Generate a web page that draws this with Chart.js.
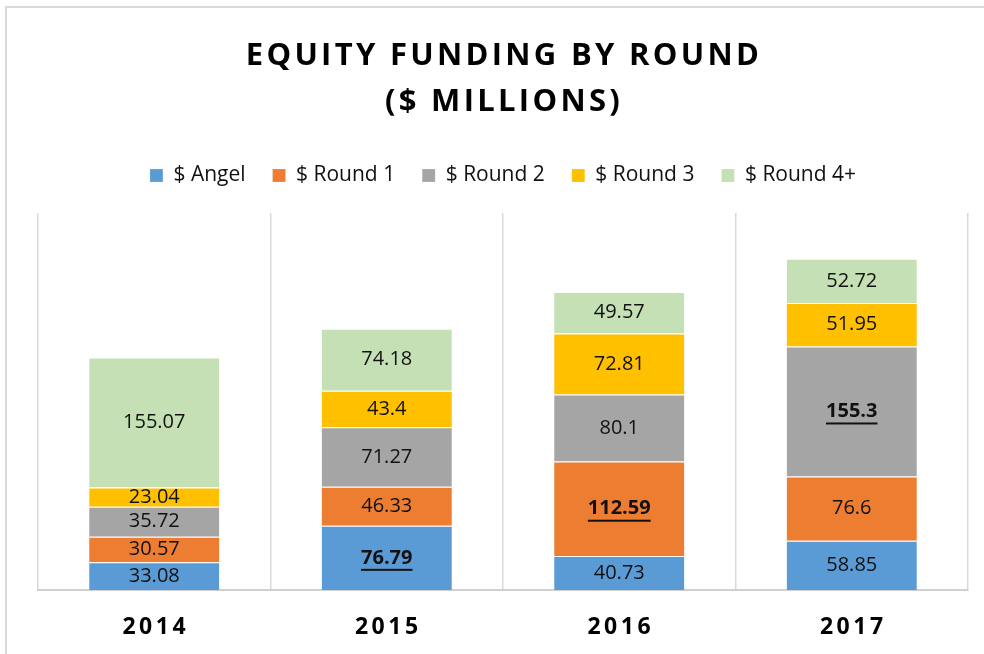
<!DOCTYPE html>
<html>
<head>
<meta charset="utf-8">
<script src="https://cdn.jsdelivr.net/npm/chart.js@4.4.1/dist/chart.umd.min.js"></script>
<style>
  html, body { margin: 0; padding: 0; background: #fff; }
  #wrap { width: 984px; height: 654px; }
</style>
</head>
<body>
<div id="wrap"><canvas id="funding" width="984" height="654"></canvas></div>
<script>
// data
var titleLines = ['EQUITY FUNDING BY ROUND', '($ MILLIONS)'];
var categories = ['2014', '2015', '2016', '2017'];
var seriesNames = ['$ Angel', '$ Round 1', '$ Round 2', '$ Round 3', '$ Round 4+'];
var angel  = [33.08, 76.79, 40.73, 58.85];
var round1 = [30.57, 46.33, 112.59, 76.6];
var round2 = [35.72, 71.27, 80.1, 155.3];
var round3 = [23.04, 43.4, 72.81, 51.95];
var round4 = [155.07, 74.18, 49.57, 52.72];
// which series label is bold+underlined in each year (-1 = none)
var boldSeries = [-1, 0, 1, 2];

var colors = ['#5B9BD5', '#ED7D31', '#A5A5A5', '#FFC000', '#C5E0B4'];
var FONT = "'Open Sans', 'Noto Sans', sans-serif";

var values = [angel, round1, round2, round3, round4];
var datasets = values.map(function (v, i) {
    return {
        label: seriesNames[i],
        data: v,
        backgroundColor: colors[i],
        borderColor: 'rgba(255,255,255,0.7)',
        borderWidth: { top: 1, left: 0, right: 0, bottom: 0 },
        borderSkipped: false,
        barPercentage: 0.56,
        categoryPercentage: 1
    };
});

// frame + title with letter spacing
var frameAndTitle = {
    id: 'frameAndTitle',
    beforeDraw: function (chart) {
        var ctx = chart.ctx;
        ctx.save();
        ctx.strokeStyle = '#d9d9d9';
        ctx.lineWidth = 2;
        ctx.strokeRect(6, 7, 1000, 700);
        ctx.restore();
    },
    afterDraw: function (chart) {
        var ctx = chart.ctx;
        var cx = (chart.chartArea.left + chart.chartArea.right) / 2;
        ctx.save();
        ctx.fillStyle = '#000';
        ctx.textAlign = 'center';
        ctx.textBaseline = 'middle';
        ctx.font = 'bold 31px ' + FONT;
        ctx.letterSpacing = '3.3px';
        ctx.fillText(titleLines[0], cx + 1, 56);
        ctx.fillText(titleLines[1], cx + 1, 102);

        // year labels
        ctx.font = 'bold 23px ' + FONT;
        ctx.letterSpacing = '3.5px';
        var xs = chart.scales.x;
        categories.forEach(function (c, i) {
            ctx.fillText(c, xs.getPixelForTick(i) + 1.5, 627);
        });
        ctx.restore();
    }
};

// value labels inside segments
var segmentLabels = {
    id: 'segmentLabels',
    afterDatasetsDraw: function (chart) {
        var ctx = chart.ctx;
        ctx.save();
        ctx.textAlign = 'center';
        ctx.textBaseline = 'middle';
        ctx.fillStyle = '#111';
        chart.data.datasets.forEach(function (ds, di) {
            var meta = chart.getDatasetMeta(di);
            meta.data.forEach(function (bar, i) {
                var p = bar.getCenterPoint();
                var txt = String(ds.data[i]);
                var bold = boldSeries[i] === di;
                ctx.font = (bold ? 'bold ' : '') + '20px ' + FONT;
                ctx.fillText(txt, p.x, p.y);
                if (bold) {
                    var w = ctx.measureText(txt).width;
                    ctx.fillRect(p.x - w / 2, p.y + 11, w, 2);
                }
            });
        });
        ctx.restore();
    }
};

var legendGap = {
    id: 'legendGap',
    beforeInit: function (chart) {
        var fit = chart.legend.fit;
        chart.legend.fit = function () {
            fit.bind(chart.legend)();
            this.height = 75;
        };
    }
};

var ctx = document.getElementById('funding').getContext('2d');
var myChart = new Chart(ctx, {
    type: 'bar',
    data: {
        labels: categories,
        datasets: datasets
    },
    options: {
        responsive: false,
        animation: false,
        layout: {
            padding: { top: 138, left: 38, right: 16, bottom: 64 }
        },
        plugins: {
            title: { display: false },
            tooltip: { enabled: false },
            legend: {
                position: 'top',
                labels: {
                    color: '#111',
                    font: { family: FONT, size: 21 },
                    boxWidth: 13,
                    boxHeight: 13,
                    padding: 27
                }
            }
        },
        scales: {
            x: {
                stacked: true,
                offset: true,
                grid: {
                    offset: true,
                    color: '#d9d9d9',
                    lineWidth: 1.5,
                    drawTicks: false
                },
                border: { display: true, color: '#d0d0d0', width: 2 },
                ticks: { display: false }
            },
            y: {
                stacked: true,
                display: false,
                min: 0,
                max: 450
            }
        }
    },
    plugins: [legendGap, segmentLabels, frameAndTitle]
});
</script>
</body>
</html>
